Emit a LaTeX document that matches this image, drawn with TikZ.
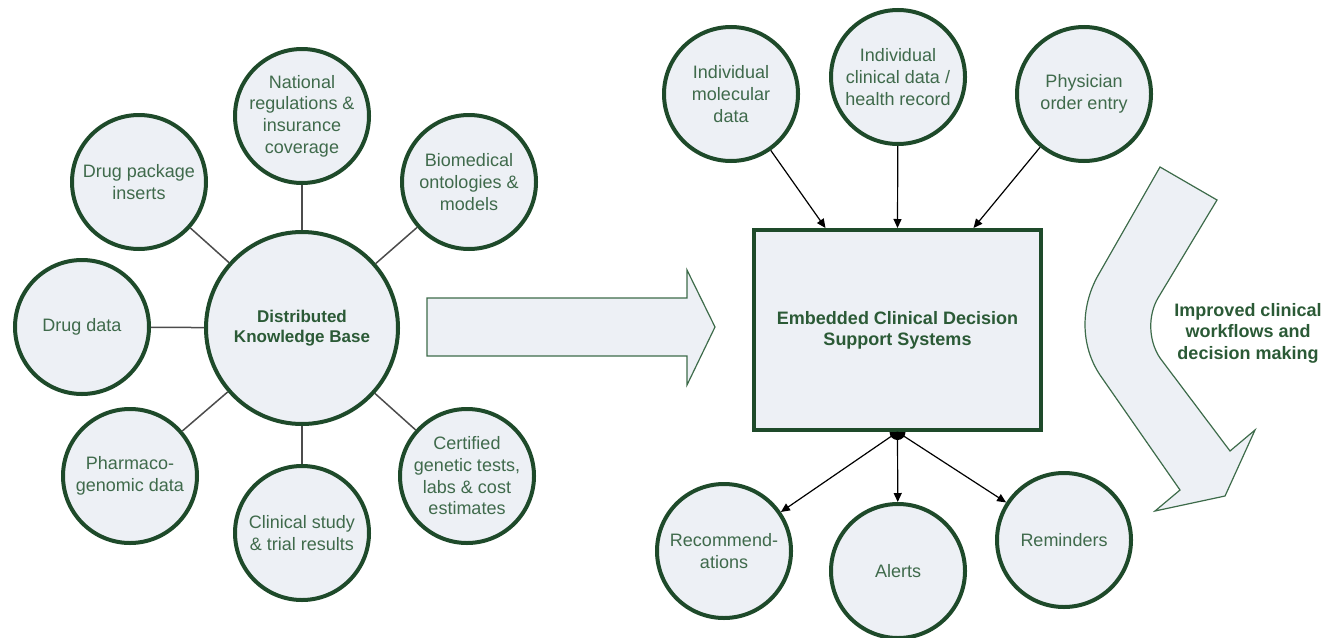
\documentclass[tikz,border=0pt]{standalone}
\usepackage{fontspec}
\setmainfont{Liberation Sans}
\usetikzlibrary{arrows.meta}
\definecolor{dkgreen}{HTML}{1E4A2A}
\definecolor{txtgreen}{HTML}{3F6A4B}
\definecolor{boldgreen}{HTML}{2B5A36}
\definecolor{fillgray}{HTML}{EDF0F5}
\definecolor{arrowline}{HTML}{3D6B4A}
\begin{document}
\begin{tikzpicture}[x=1pt,y=-1pt,
  bubble/.style={circle, draw=dkgreen, line width=4pt, fill=fillgray, minimum size=134pt, inner sep=0pt, align=center, text=txtgreen, font=\fontsize{18}{21.7}\selectfont},
  hub/.style={bubble, minimum size=192pt, text=boldgreen, font=\fontsize{17}{20.5}\selectfont\bfseries},
  cbox/.style={rectangle, draw=dkgreen, line width=4pt, fill=fillgray, minimum width=287pt, minimum height=200pt, inner sep=0pt, align=center, text=boldgreen, font=\fontsize{18}{21}\selectfont\bfseries},
  link/.style={line width=1.5pt, draw=black!70},
  feed/.style={line width=1.2pt, draw=black, -{Triangle[length=9pt,width=8pt]}},
  bigarrow/.style={draw=arrowline, line width=1.2pt, fill=fillgray, line join=miter},
  caption/.style={align=center, text=boldgreen, font=\fontsize{18}{21.5}\selectfont\bfseries}
]
\useasboundingbox (0,0) rectangle (1340,637);

% left cluster
\node[hub] (dkb) at (302,328) {Distributed\\Knowledge Base};
\node[bubble] (nat) at (302,116) {National\\regulations \&\\insurance\\coverage};
\node[bubble] (dpi) at (139,182) {Drug package\\inserts};
\node[bubble] (bio) at (469,182) {Biomedical\\ontologies \&\\models};
\node[bubble] (dd) at (82,327) {Drug data};
\node[bubble] (pg) at (130,476) {Pharmaco-\\genomic data};
\node[bubble] (cs) at (302,533) {Clinical study\\\& trial results};
\node[bubble] (cg) at (467,476) {Certified\\genetic tests,\\labs \& cost\\estimates};

\foreach \n in {nat,dpi,bio,dd,pg,cs,cg} \draw[link] (dkb) -- (\n);

% big right arrow
\draw[bigarrow] (427,298) -- (687,298) -- (687,270) -- (715,327) -- (687,385) -- (687,356) -- (427,356) -- cycle;

% right part
\coordinate (split) at (897.5,432);
\fill[black] (split) circle (8pt);
\node[cbox] (cdss) at (897.5,330) {Embedded Clinical Decision\\Support Systems};

\node[bubble] (mol) at (731,94) {Individual\\molecular\\data};
\node[bubble] (clin) at (898,77) {Individual\\clinical data /\\health record};
\node[bubble] (phys) at (1084,94) {Physician\\order entry};

\node[bubble] (rec) at (724,551) {Recommend-\\ations};
\node[bubble] (alr) at (898,571) {Alerts};
\node[bubble] (rem) at (1064,540) {Reminders};

\draw[feed] (mol) -- ([xshift=-72pt]cdss.north);
\draw[feed] (clin) -- (cdss.north);
\draw[feed] (phys) -- ([xshift=76pt]cdss.north);

\draw[feed] (split) -- (rec);
\draw[feed] (split) -- (alr);
\draw[feed] (split) -- (rem);

% curved arrow
\draw[bigarrow] (1160,167) -- (1217,200) -- (1158,298)
  .. controls (1148,315) and (1148,340) .. (1160,358)
  -- (1230,451) -- (1255,430) -- (1225,496) -- (1155,511) -- (1180,490)
  -- (1100,375) .. controls (1080,345) and (1080,305) .. (1100,272) -- cycle;
\node[caption] (imp) at (1248,333) {Improved clinical\\workflows and\\decision making};
\end{tikzpicture}
\end{document}
